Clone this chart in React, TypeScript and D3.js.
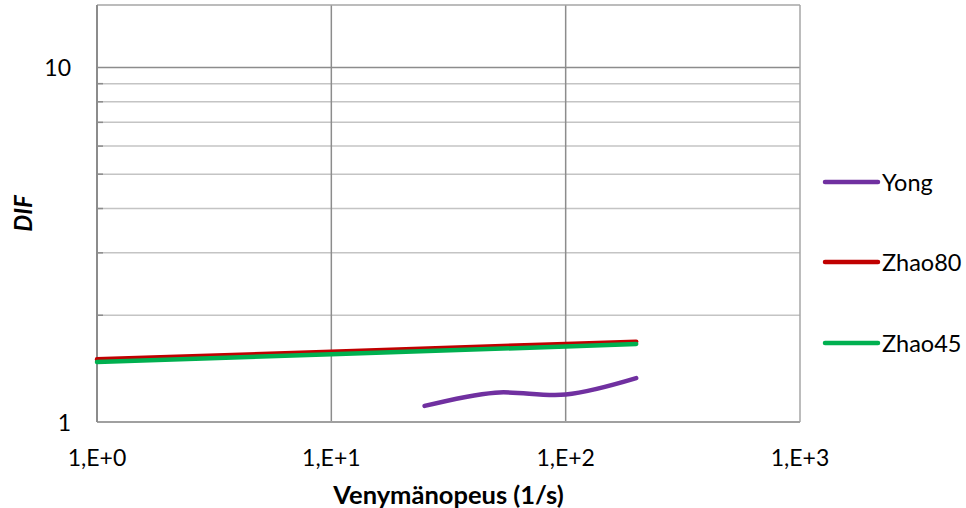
import React from "react";
import * as d3 from "d3";

const W = 966;
const H = 508;

const yongX = [25, 50, 100, 200];
const yongY = [1.11, 1.21, 1.195, 1.33];
const zhao80X = [1, 10, 100, 200];
const zhao80Y = [1.502, 1.579, 1.66, 1.685];
const zhao45X = [1, 10, 100, 200];
const zhao45Y = [1.476, 1.552, 1.633, 1.659];

const xTicks = [1, 10, 100, 1000];
const xTickLabels = ["1,E+0", "1,E+1", "1,E+2", "1,E+3"];
const yMajor = [1, 10];
const yMajorLabels = ["1", "10"];
const yMinor = [2, 3, 4, 5, 6, 7, 8, 9];

const seriesNames = ["Yong", "Zhao80", "Zhao45"];
const seriesColors = ["#7030A0", "#C00000", "#00B050"];

const FONT = "Lato, 'Open Sans', sans-serif";

export default function App() {
  const x = d3.scaleLog().domain([1, 1000]).range([97, 800]);
  const y = d3.scaleLog().domain([1, 15]).range([422, 5]);
  const [x0, x1] = x.range();
  const [yb, yt] = y.range();

  const series = [
    { xs: yongX, ys: yongY, curve: d3.curveCardinal.tension(0) },
    { xs: zhao80X, ys: zhao80Y, curve: d3.curveLinear },
    { xs: zhao45X, ys: zhao45Y, curve: d3.curveLinear },
  ];

  const legendY = [182, 262, 343];

  return (
    <svg
      width={W}
      height={H}
      style={{ position: "absolute", left: 0, top: 0, background: "#fff" }}
    >
      {yMinor.map((v) => (
        <line key={"mn" + v} x1={x0} x2={x1} y1={y(v)} y2={y(v)} stroke="#c4c4c4" strokeWidth={1.5} />
      ))}
      {yMinor.map((v) => (
        <line key={"mt" + v} x1={x0} x2={x0 + 6} y1={y(v)} y2={y(v)} stroke="#8c8c8c" strokeWidth={1.5} />
      ))}
      <line x1={x0} x2={x1} y1={y(10)} y2={y(10)} stroke="#8c8c8c" strokeWidth={1.5} />
      {[10, 100].map((v) => (
        <line key={"vx" + v} x1={x(v)} x2={x(v)} y1={yt} y2={yb} stroke="#8c8c8c" strokeWidth={1.5} />
      ))}
      <line x1={x0} x2={x1} y1={yt} y2={yt} stroke="#a6a6a6" strokeWidth={1.5} />
      <line x1={x1} x2={x1} y1={yt} y2={yb} stroke="#a6a6a6" strokeWidth={1.5} />
      <line x1={x0} x2={x1} y1={yb} y2={yb} stroke="#a0a0a0" strokeWidth={2} />
      <line x1={x0} x2={x0} y1={yt} y2={yb} stroke="#8c8c8c" strokeWidth={2} />

      {series.map((s, i) => {
        const pts: [number, number][] = s.xs.map((v, j) => [x(v), y(s.ys[j])]);
        const path = d3.line().curve(s.curve)(pts) || "";
        return (
          <path
            key={"s" + i}
            d={path}
            fill="none"
            stroke={seriesColors[i]}
            strokeWidth={4.5}
            strokeLinecap="round"
            strokeLinejoin="round"
          />
        );
      })}

      {yMajor.map((v, i) => (
        <text
          key={"yl" + v}
          x={71}
          y={y(v)}
          textAnchor="end"
          dominantBaseline="central"
          fontFamily={FONT}
          fontSize={23}
          fill="#000"
        >
          {yMajorLabels[i]}
        </text>
      ))}
      {xTicks.map((v, i) => (
        <text
          key={"xl" + v}
          x={x(v)}
          y={457}
          textAnchor="middle"
          dominantBaseline="central"
          fontFamily={FONT}
          fontSize={23}
          fill="#000"
        >
          {xTickLabels[i]}
        </text>
      ))}
      <text
        x={(x0 + x1) / 2}
        y={494}
        textAnchor="middle"
        dominantBaseline="central"
        fontFamily={FONT}
        fontSize={25.5}
        fontWeight="bold"
        fill="#000"
      >
        Venymänopeus (1/s)
      </text>
      <text
        transform={`translate(22,${(yt + yb) / 2}) rotate(-90)`}
        textAnchor="middle"
        dominantBaseline="central"
        fontFamily={FONT}
        fontSize={24}
        fontWeight="bold"
        fontStyle="italic"
        fill="#000"
      >
        DIF
      </text>

      {seriesNames.map((n, i) => (
        <g key={"lg" + n}>
          <line
            x1={825}
            x2={878}
            y1={legendY[i]}
            y2={legendY[i]}
            stroke={seriesColors[i]}
            strokeWidth={4.5}
            strokeLinecap="round"
          />
          <text
            x={882}
            y={legendY[i]}
            dominantBaseline="central"
            fontFamily={FONT}
            fontSize={23.5}
            fill="#000"
          >
            {n}
          </text>
        </g>
      ))}
    </svg>
  );
}
